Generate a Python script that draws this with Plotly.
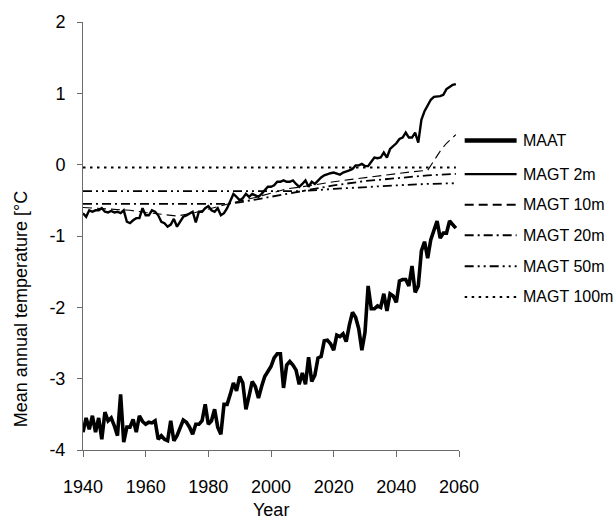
import plotly.graph_objects as go

# Annual series, 1940-2059
years = list(range(1940, 2060))

maat = [
    -3.75, -3.55, -3.71, -3.52, -3.75, -3.55, -3.85, -3.47, -3.59, -3.55,
    -3.66, -3.80, -3.22, -3.89, -3.68, -3.68, -3.57, -3.75, -3.52, -3.60,
    -3.64, -3.61, -3.62, -3.59, -3.85, -3.80, -3.85, -3.87, -3.59, -3.87,
    -3.80, -3.68, -3.58, -3.61, -3.68, -3.78, -3.64, -3.64, -3.59, -3.36,
    -3.64, -3.59, -3.43, -3.68, -3.78, -3.36, -3.36, -3.22, -3.06, -3.17,
    -2.97, -3.06, -3.43, -3.24, -3.04, -3.11, -3.27, -3.11, -2.97, -2.90,
    -2.83, -2.71, -2.65, -2.65, -3.13, -2.81, -2.76, -2.81, -2.88, -3.08,
    -2.92, -3.08, -2.70, -3.04, -2.95, -2.71, -2.69, -2.47, -2.46, -2.51,
    -2.60, -2.39, -2.41, -2.37, -2.48, -2.25, -2.07, -2.14, -2.30, -2.60,
    -2.35, -1.70, -2.02, -2.02, -1.98, -2.00, -1.81, -2.05, -1.81, -1.84,
    -1.93, -1.63, -1.61, -1.61, -1.70, -1.42, -1.79, -1.70, -1.21, -1.08,
    -1.31, -1.05, -0.93, -0.79, -1.03, -0.96, -0.96, -0.79, -0.84, -0.89,
]

magt_2m = [
    -0.68, -0.73, -0.64, -0.66, -0.64, -0.64, -0.61, -0.66, -0.67, -0.65,
    -0.67, -0.66, -0.68, -0.64, -0.80, -0.82, -0.78, -0.75, -0.75, -0.61,
    -0.71, -0.71, -0.64, -0.66, -0.71, -0.80, -0.82, -0.87, -0.84, -0.76,
    -0.87, -0.80, -0.73, -0.71, -0.68, -0.66, -0.81, -0.66, -0.66, -0.61,
    -0.58, -0.64, -0.66, -0.61, -0.71, -0.68, -0.61, -0.52, -0.41, -0.45,
    -0.50, -0.47, -0.41, -0.45, -0.41, -0.43, -0.45, -0.41, -0.36, -0.31,
    -0.31, -0.29, -0.24, -0.24, -0.22, -0.24, -0.24, -0.22, -0.27, -0.31,
    -0.27, -0.22, -0.31, -0.24, -0.27, -0.22, -0.18, -0.15, -0.13, -0.12,
    -0.11, -0.12, -0.14, -0.11, -0.10, -0.08, -0.06, -0.01, -0.01, 0.01,
    -0.02, -0.02, 0.04, 0.10, 0.09, 0.10, 0.17, 0.10, 0.22, 0.26,
    0.30, 0.36, 0.38, 0.45, 0.38, 0.38, 0.45, 0.31, 0.63, 0.75,
    0.84, 0.91, 0.95, 0.95, 0.96, 0.98, 1.06, 1.09, 1.12, 1.13,
]

# Deeper ground temperatures change smoothly; values at selected years
years_10m = [1940, 1950, 1955, 1960, 1965, 1970, 1975, 1980, 1985, 1990, 1995,
             2000, 2005, 2010, 2015, 2020, 2025, 2030, 2035, 2040, 2045, 2050,
             2052, 2054, 2056, 2059]
magt_10m = [-0.60, -0.62, -0.64, -0.67, -0.70, -0.72, -0.68, -0.62, -0.57, -0.51,
            -0.46, -0.40, -0.34, -0.31, -0.27, -0.24, -0.21, -0.18, -0.15, -0.12,
            -0.10, -0.08, 0.06, 0.19, 0.30, 0.42]

years_20m = [1940, 1985, 1990, 1995, 2000, 2005, 2010, 2020, 2030, 2040, 2050, 2059]
magt_20m = [-0.55, -0.55, -0.53, -0.49, -0.44, -0.40, -0.36, -0.29, -0.23, -0.19,
            -0.15, -0.13]

years_50m = [1940, 2010, 2020, 2030, 2040, 2050, 2059]
magt_50m = [-0.37, -0.37, -0.34, -0.31, -0.29, -0.27, -0.26]

years_100m = [1940, 1960, 1980, 2000, 2020, 2040, 2059]
magt_100m = [-0.04, -0.04, -0.04, -0.04, -0.04, -0.04, -0.04]

x_ticks = [1940, 1960, 1980, 2000, 2020, 2040, 2060]
y_ticks = [-4, -3, -2, -1, 0, 1, 2]
y_tick_labels = ["-4", "-3", "-2", "-1", "0", "1", "2"]

FONT = "Liberation Sans, Arial, sans-serif"
INK = "#000000"
AXIS = "#6b6b6b"

# name, x, y, plot width, legend width, dash
series = [
    ("MAGT 100m", years_100m, magt_100m, 2.0, 2.0, "2.5px,4.5px"),
    ("MAGT 50m", years_50m, magt_50m, 1.8, 2.0, "9px,4px,2px,4px,2px,4px"),
    ("MAGT 20m", years_20m, magt_20m, 1.8, 2.0, "9px,4px,2px,4px"),
    ("MAGT 10m", years_10m, magt_10m, 1.1, 2.0, "9px,5px"),
    ("MAGT 2m", years, magt_2m, 2.4, 2.4, "solid"),
    ("MAAT", years, maat, 3.6, 4.5, "solid"),
]

fig = go.Figure()
for name, xs, ys, w, _, dash in series:
    fig.add_trace(go.Scatter(
        x=xs, y=ys, mode="lines", name=name,
        line=dict(color=INK, width=w, dash=dash),
        showlegend=False,
    ))

# Legend drawn beside the plot, top to bottom
legend_order = ["MAAT", "MAGT 2m", "MAGT 10m", "MAGT 20m", "MAGT 50m", "MAGT 100m"]
legend_y = [0.7231, 0.6446, 0.5730, 0.5015, 0.4293, 0.3577]
style = {s[0]: s for s in series}
shapes = []
annotations = []
for name, yy in zip(legend_order, legend_y):
    _, _, _, _, lw, dash = style[name]
    shapes.append(dict(
        type="line", xref="paper", yref="paper",
        x0=1.0151, x1=1.1532, y0=yy, y1=yy,
        line=dict(color=INK, width=lw, dash=dash),
    ))
    annotations.append(dict(
        text=name, xref="paper", yref="paper", x=1.1638, y=yy,
        xanchor="left", yanchor="middle", showarrow=False,
        font=dict(family=FONT, size=16, color=INK),
    ))

annotations.append(dict(
    text="Year", xref="paper", yref="paper", x=0.5, y=-0.141,
    xanchor="center", yanchor="middle", showarrow=False,
    font=dict(family=FONT, size=18, color=INK),
))
annotations.append(dict(
    text="Mean annual temperature [°C", xref="paper", yref="paper",
    x=-0.1665, y=0.33, xanchor="center", yanchor="middle", textangle=-90,
    showarrow=False, font=dict(family=FONT, size=18, color=INK),
))

fig.update_layout(
    width=613, height=521, autosize=False,
    margin=dict(l=83, r=154, t=17, b=71, pad=0),
    paper_bgcolor="white", plot_bgcolor="white",
    font=dict(family=FONT, size=18, color=INK),
    shapes=shapes, annotations=annotations,
    showlegend=False,
)
fig.update_xaxes(
    range=[1940, 2060], tickvals=x_ticks, ticks="outside", ticklen=6,
    tickcolor=AXIS, showline=True, linecolor=AXIS, linewidth=1,
    showgrid=False, zeroline=False, ticklabelstandoff=14,
    tickfont=dict(family=FONT, size=18, color=INK),
)
fig.update_yaxes(
    range=[-4, 2], tickvals=y_ticks, ticktext=y_tick_labels, ticks="outside",
    ticklen=5, tickcolor=AXIS, showline=True, linecolor=AXIS, linewidth=1,
    showgrid=False, zeroline=False, ticklabelstandoff=8,
    tickfont=dict(family=FONT, size=18, color=INK),
)

fig.write_html("out.html")
